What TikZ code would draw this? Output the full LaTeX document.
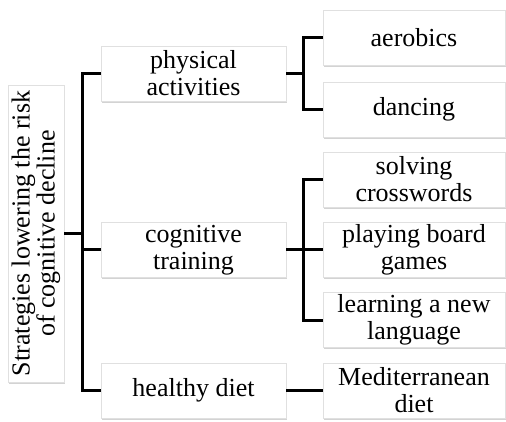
\documentclass[tikz,border=0pt]{standalone}
\usepackage{fontspec}
\setmainfont{Liberation Serif}
\usetikzlibrary{shadows}

\begin{document}
\begin{tikzpicture}[x=.5pt,y=-.5pt,
    box/.style={draw=black!12,fill=white,align=center,inner sep=1pt,
      font=\fontsize{13}{13.5}\selectfont,minimum height=27.5pt,
      drop shadow={shadow xshift=.5pt,shadow yshift=-.9pt,opacity=.35}},
    midbox/.style={box,minimum width=92.5pt},
    leafbox/.style={box,minimum width=91pt},
    conn/.style={line width=1.5pt}]
          \useasboundingbox (0,0) rectangle (506,421);
          \node[box,rotate=90,minimum width=148.5pt,minimum height=28pt,inner sep=0pt,
            font=\fontsize{13}{12.5}\selectfont] (root) at (36,233.5)
            {Strategies lowering the risk\\of cognitive decline};
          \begin{scope}
            \node[midbox] (phys) at (193.5,73.5) {physical\\activities};
            \node[midbox] (cog) at (193.5,250) {cognitive\\training};
            \node[midbox] (diet) at (193.5,390.5) {healthy diet};
          \end{scope}
          \begin{scope}
            \node[leafbox] (aer) at (414,38) {aerobics};
            \node[leafbox] (dance) at (414,109.5) {dancing};
            \node[leafbox] (cross) at (414,179.5) {solving\\crosswords};
            \node[leafbox] (board) at (414,249.5) {playing board\\games};
            \node[leafbox] (lang) at (414,320) {learning a new\\language};
            \node[leafbox] (med) at (414,390.5) {Mediterranean\\diet};
          \end{scope}
          \coordinate (trunk) at (82,0);
          \coordinate (ptrunk) at (303,0);
          \draw[conn] (phys.west) -| (trunk |- phys.west) |- (diet.west);
          \draw[conn] (root.south) -- (root.south -| trunk);
          \draw[conn] (cog.west) -- (cog.west -| trunk);
          \draw[conn] (aer.west) -| (ptrunk |- aer.west) |- (dance.west);
          \draw[conn] (phys.east) -- (phys.east -| ptrunk);
          \draw[conn] (cross.west) -| (ptrunk |- cross.west) |- (lang.west);
          \draw[conn] (board.west) -- (board.west -| ptrunk);
          \draw[conn] (cog.east) -- (cog.east -| ptrunk);
          \draw[conn] (diet.east) -- (med.west);
        \end{tikzpicture}
\end{document}
